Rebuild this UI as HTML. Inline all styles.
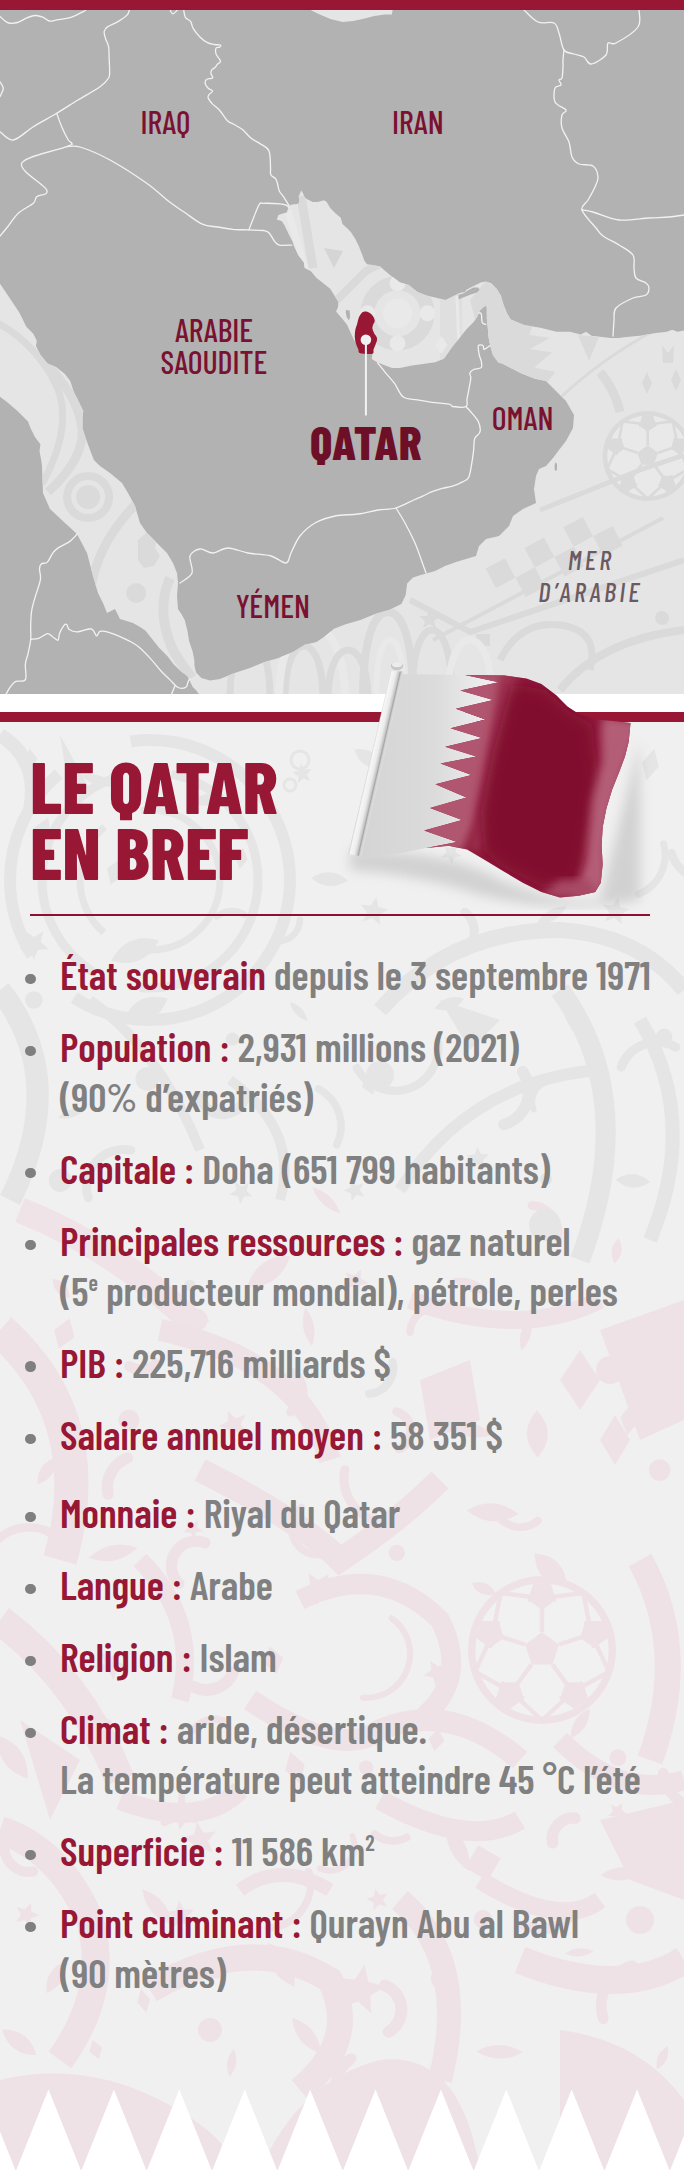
<!DOCTYPE html>
<html lang="fr"><head><meta charset="utf-8"><title>Le Qatar en bref</title>
<style>
html,body{margin:0;padding:0}
body{width:684px;height:2170px;position:relative;overflow:hidden;background:#f0f0f0;font-family:"Barlow Condensed","Liberation Sans Narrow","Liberation Sans",sans-serif}
.map{position:absolute;left:0;top:0;display:block}
.band-w{position:absolute;left:0;top:694px;width:684px;height:18px;background:#ffffff}
.band-r{position:absolute;left:0;top:712px;width:684px;height:10px;background:#971735}
.flag{position:absolute;left:0;top:650px;display:block}
.tri{position:absolute;left:0;top:2080px;display:block}
.bg{position:absolute;left:0;top:722px;display:block}
.lbl{position:absolute;width:300px;text-align:center;line-height:1;white-space:nowrap}
.lbl .t{display:inline-block;transform-origin:50% 50%}
.title{transform-origin:0 50%;position:absolute;left:30.3px;font-size:73px;font-weight:800;color:#971735;line-height:1;white-space:nowrap}
.rule{position:absolute;left:30px;top:914px;width:620px;height:2px;background:#8f0f31}
.li{transform-origin:0 50%;position:absolute;left:60px;font-size:40.2px;line-height:1;font-weight:600;color:#808080;white-space:nowrap}
.li b{color:#971735;font-weight:600}
.li sup{font-size:0.55em;vertical-align:0;position:relative;top:-0.67em}
.bul{position:absolute;left:25px;width:10.5px;height:10.5px;border-radius:50%;background:#7f7f7f}
</style></head><body>
<svg class="map" width="684" height="694" viewBox="0 0 684 694">
<defs>
<clipPath id="seaclip"><polygon points="0.0,283.7 5.3,291.6 12.3,302.1 19.3,312.6 22.8,319.6 26.3,326.7 33.3,333.7 36.8,340.7 36.0,346.0 40.4,354.7 47.4,363.5 56.1,367.0 64.9,374.0 70.2,381.0 73.7,391.6 79.0,402.1 83.3,410.9 82.5,417.9 82.5,428.4 86.0,438.9 91.2,453.0 93.9,460.0 100.0,466.0 110.0,473.0 122.0,483.0 128.0,493.0 135.0,506.0 140.0,523.0 147.0,533.0 157.0,543.0 167.0,553.0 173.0,563.0 177.0,573.0 178.0,583.0 177.0,596.0 178.0,609.0 182.0,615.0 184.7,620.0 187.4,630.5 189.1,641.0 192.6,651.6 194.4,660.4 194.4,665.6 196.1,672.6 201.4,677.9 210.0,680.5 220.0,679.0 234.6,673.0 249.2,668.2 263.9,662.3 278.5,658.0 293.1,652.1 304.8,644.8 316.5,641.9 325.3,636.0 334.0,628.7 345.7,624.3 360.4,620.0 375.0,614.0 389.6,609.7 401.3,603.9 405.7,595.1 407.1,583.4 413.0,577.5 420.0,575.2 435.0,571.0 445.0,566.0 456.0,562.0 466.0,559.0 476.0,556.0 479.0,546.0 486.0,539.0 499.0,536.0 509.0,526.0 513.0,516.0 523.0,509.0 536.0,503.0 534.0,489.0 536.0,476.0 539.0,469.0 546.0,466.0 553.0,458.0 559.0,450.0 566.0,441.0 573.0,428.0 574.0,415.0 566.0,401.0 556.0,391.0 546.0,381.0 535.0,378.8 521.5,373.4 510.8,368.0 503.0,364.0 498.2,362.3 493.0,355.3 490.4,346.5 488.6,337.7 487.7,327.2 486.8,318.4 486.8,307.9 486.0,305.3 482.5,307.9 479.8,310.5 477.2,316.7 473.7,321.9 466.7,328.9 459.6,337.7 452.6,346.5 443.9,358.8 435.1,362.3 422.8,364.0 410.5,365.8 400.0,368.0 392.0,368.0 384.0,365.0 378.0,362.5 375.3,361.3 371.8,359.0 372.4,353.7 373.5,349.6 375.3,345.0 377.0,340.3 376.5,336.8 374.1,333.3 372.4,328.6 373.0,325.1 374.7,321.0 373.0,316.3 369.4,312.8 364.8,311.6 361.3,313.4 358.9,317.5 357.2,323.9 355.4,329.8 354.8,336.8 356.0,343.8 358.3,349.6 360.1,353.2 357.2,346.1 354.2,340.3 351.9,335.6 349.6,330.4 347.2,325.1 343.7,320.4 339.0,315.1 336.1,311.6 337.9,307.5 338.5,301.7 337.2,300.0 330.2,288.8 321.4,281.8 316.1,277.4 310.9,271.2 304.7,267.7 303.9,262.5 298.6,255.4 294.2,246.7 292.5,241.4 288.9,234.4 284.6,225.6 281.9,221.2 276.7,219.5 278.4,215.1 283.7,213.3 287.2,212.5 288.1,208.1 288.9,205.4 292.5,204.6 298.6,203.7 299.5,199.3 298.6,196.7 301.2,190.5 303.0,193.2 304.7,197.5 307.4,199.3 312.6,201.9 317.9,201.9 324.0,200.2 326.7,201.9 330.2,208.1 335.4,213.3 340.7,217.7 342.5,223.9 347.7,228.8 351.2,232.6 355.6,239.6 359.1,246.7 361.8,253.7 364.4,260.7 367.0,264.2 372.3,265.1 380.0,266.5 390.0,275.0 400.0,282.5 408.8,285.1 417.5,292.1 426.3,295.6 435.1,297.4 445.6,300.0 452.6,296.5 459.6,293.0 464.9,292.1 466.7,289.5 473.7,286.0 480.7,282.5 486.0,281.6 491.2,283.3 496.5,288.6 500.9,295.6 503.5,304.4 507.0,313.2 510.8,319.6 524.2,325.0 540.4,327.7 556.5,331.7 570.0,331.7 580.7,334.4 586.1,331.7 591.5,335.7 602.2,337.1 610.3,337.9 618.4,337.9 626.4,337.1 639.9,335.7 656.0,333.0 666.8,331.7 672.2,329.8 677.6,331.7 684.0,330.4 684.0,694.0 198.8,694.0 196.1,690.2 192.6,686.7 189.1,679.6 187.4,676.1 180.4,670.9 173.3,663.9 168.0,656.8 159.3,648.0 152.3,639.3 145.3,630.5 140.0,627.0 133.0,623.0 120.0,619.0 115.0,609.0 107.0,613.0 103.0,603.0 98.0,593.0 93.0,576.0 87.0,553.0 77.0,534.0 65.0,523.0 50.0,509.0 43.0,493.0 42.0,466.0 41.2,460.0 39.5,451.2 40.4,444.2 35.1,437.2 30.7,428.4 28.0,421.4 17.5,410.9 7.0,402.1 0.0,396.8"/><polygon points="311.0,9.0 311.0,10.3 319.8,14.6 330.4,19.0 342.6,22.0 353.2,21.1 363.7,18.7 374.2,15.9 384.7,14.6 391.8,14.6 392.6,10.3 392.6,9.0"/></clipPath>
</defs>
<rect width="684" height="694" fill="#b2b2b2"/>
<polygon points="0.0,283.7 5.3,291.6 12.3,302.1 19.3,312.6 22.8,319.6 26.3,326.7 33.3,333.7 36.8,340.7 36.0,346.0 40.4,354.7 47.4,363.5 56.1,367.0 64.9,374.0 70.2,381.0 73.7,391.6 79.0,402.1 83.3,410.9 82.5,417.9 82.5,428.4 86.0,438.9 91.2,453.0 93.9,460.0 100.0,466.0 110.0,473.0 122.0,483.0 128.0,493.0 135.0,506.0 140.0,523.0 147.0,533.0 157.0,543.0 167.0,553.0 173.0,563.0 177.0,573.0 178.0,583.0 177.0,596.0 178.0,609.0 182.0,615.0 184.7,620.0 187.4,630.5 189.1,641.0 192.6,651.6 194.4,660.4 194.4,665.6 196.1,672.6 201.4,677.9 210.0,680.5 220.0,679.0 234.6,673.0 249.2,668.2 263.9,662.3 278.5,658.0 293.1,652.1 304.8,644.8 316.5,641.9 325.3,636.0 334.0,628.7 345.7,624.3 360.4,620.0 375.0,614.0 389.6,609.7 401.3,603.9 405.7,595.1 407.1,583.4 413.0,577.5 420.0,575.2 435.0,571.0 445.0,566.0 456.0,562.0 466.0,559.0 476.0,556.0 479.0,546.0 486.0,539.0 499.0,536.0 509.0,526.0 513.0,516.0 523.0,509.0 536.0,503.0 534.0,489.0 536.0,476.0 539.0,469.0 546.0,466.0 553.0,458.0 559.0,450.0 566.0,441.0 573.0,428.0 574.0,415.0 566.0,401.0 556.0,391.0 546.0,381.0 535.0,378.8 521.5,373.4 510.8,368.0 503.0,364.0 498.2,362.3 493.0,355.3 490.4,346.5 488.6,337.7 487.7,327.2 486.8,318.4 486.8,307.9 486.0,305.3 482.5,307.9 479.8,310.5 477.2,316.7 473.7,321.9 466.7,328.9 459.6,337.7 452.6,346.5 443.9,358.8 435.1,362.3 422.8,364.0 410.5,365.8 400.0,368.0 392.0,368.0 384.0,365.0 378.0,362.5 375.3,361.3 371.8,359.0 372.4,353.7 373.5,349.6 375.3,345.0 377.0,340.3 376.5,336.8 374.1,333.3 372.4,328.6 373.0,325.1 374.7,321.0 373.0,316.3 369.4,312.8 364.8,311.6 361.3,313.4 358.9,317.5 357.2,323.9 355.4,329.8 354.8,336.8 356.0,343.8 358.3,349.6 360.1,353.2 357.2,346.1 354.2,340.3 351.9,335.6 349.6,330.4 347.2,325.1 343.7,320.4 339.0,315.1 336.1,311.6 337.9,307.5 338.5,301.7 337.2,300.0 330.2,288.8 321.4,281.8 316.1,277.4 310.9,271.2 304.7,267.7 303.9,262.5 298.6,255.4 294.2,246.7 292.5,241.4 288.9,234.4 284.6,225.6 281.9,221.2 276.7,219.5 278.4,215.1 283.7,213.3 287.2,212.5 288.1,208.1 288.9,205.4 292.5,204.6 298.6,203.7 299.5,199.3 298.6,196.7 301.2,190.5 303.0,193.2 304.7,197.5 307.4,199.3 312.6,201.9 317.9,201.9 324.0,200.2 326.7,201.9 330.2,208.1 335.4,213.3 340.7,217.7 342.5,223.9 347.7,228.8 351.2,232.6 355.6,239.6 359.1,246.7 361.8,253.7 364.4,260.7 367.0,264.2 372.3,265.1 380.0,266.5 390.0,275.0 400.0,282.5 408.8,285.1 417.5,292.1 426.3,295.6 435.1,297.4 445.6,300.0 452.6,296.5 459.6,293.0 464.9,292.1 466.7,289.5 473.7,286.0 480.7,282.5 486.0,281.6 491.2,283.3 496.5,288.6 500.9,295.6 503.5,304.4 507.0,313.2 510.8,319.6 524.2,325.0 540.4,327.7 556.5,331.7 570.0,331.7 580.7,334.4 586.1,331.7 591.5,335.7 602.2,337.1 610.3,337.9 618.4,337.9 626.4,337.1 639.9,335.7 656.0,333.0 666.8,331.7 672.2,329.8 677.6,331.7 684.0,330.4 684.0,694.0 198.8,694.0 196.1,690.2 192.6,686.7 189.1,679.6 187.4,676.1 180.4,670.9 173.3,663.9 168.0,656.8 159.3,648.0 152.3,639.3 145.3,630.5 140.0,627.0 133.0,623.0 120.0,619.0 115.0,609.0 107.0,613.0 103.0,603.0 98.0,593.0 93.0,576.0 87.0,553.0 77.0,534.0 65.0,523.0 50.0,509.0 43.0,493.0 42.0,466.0 41.2,460.0 39.5,451.2 40.4,444.2 35.1,437.2 30.7,428.4 28.0,421.4 17.5,410.9 7.0,402.1 0.0,396.8" fill="#e5e5e5"/>
<polygon points="311.0,9.0 311.0,10.3 319.8,14.6 330.4,19.0 342.6,22.0 353.2,21.1 363.7,18.7 374.2,15.9 384.7,14.6 391.8,14.6 392.6,10.3 392.6,9.0" fill="#e5e5e5"/>
<g clip-path="url(#seaclip)">
<path d="M-4,322 C25,337 50,365 60,395 C68,425 58,455 42,484" fill="none" stroke="#dadada" stroke-width="7"/>
<path d="M40,358 C62,378 78,400 82,428 C84,450 70,472 48,492" fill="none" stroke="#dadada" stroke-width="9"/>
<circle cx="88.1" cy="497" r="21" fill="none" stroke="#dadada" stroke-width="8"/>
<circle cx="88.1" cy="497" r="12" fill="#dadada"/>
<path d="M137,503 C118,522 100,548 93,578 C88,595 92,606 98,616" fill="none" stroke="#dadada" stroke-width="9"/>
<path d="M170,578 C160,600 162,625 172,648 C178,660 186,670 192,678" fill="none" stroke="#dadada" stroke-width="10"/>
<circle cx="136.2" cy="593" r="10" fill="#dadada"/>
<path d="M138,540 l9,-8 l10,6 l-2,10 l5,8 l-6,10 l-10,2 l-6,-8z" fill="#dadada"/>
<path d="M301,196 L313,268" fill="none" stroke="#dadada" stroke-width="9"/>
<path d="M335,302 L366,271 L384,262" fill="none" stroke="#dadada" stroke-width="8"/>
<path d="M288,210 L306,272" fill="none" stroke="#e9e9e9" stroke-width="7"/>
<polygon points="324,248 343,251 334,268" fill="#d5d5d5"/>
<circle cx="397.5" cy="313.3" r="30" fill="none" stroke="#dadada" stroke-width="14"/><circle cx="397.5" cy="313.3" r="14.7" fill="#e9e9e9"/><circle cx="427.5" cy="313.3" r="8.0" fill="#e9e9e9"/><circle cx="397.5" cy="343.3" r="8.0" fill="#e9e9e9"/><circle cx="367.5" cy="313.3" r="8.0" fill="#e9e9e9"/><circle cx="397.5" cy="283.3" r="8.0" fill="#e9e9e9"/>
<path d="M440,282 L462,282 L462,360 L440,360z" fill="#dadada" opacity="0.6"/>
<line x1="457" y1="296" x2="459" y2="346" stroke="#e9e9e9" stroke-width="3"/>
<polygon points="441.4,336.0 447.4,345 441.4,354.0 435.4,345" fill="#e9e9e9" transform="rotate(0 441.4 345)"/>
<polygon points="486,281 496.5,288.6 500.9,295.6 503.5,304.4 507,313.2 510.8,319.6 524.2,325 532.6,326.3 529.1,335.1 550.2,337.7 530,349.1 552,352.6 534.4,367.5 555.4,371.9 546.7,382.5 540,386 500,372 478,330 470,300" fill="#dadada"/>
<polygon points="578,335 599,337 589,361" fill="#dadada"/>
<path d="M560,398 Q600,360 655,330" fill="none" stroke="#dadada" stroke-width="3"/>
<path d="M600,372 Q615,390 620,412" fill="none" stroke="#dadada" stroke-width="9"/>
<polygon points="647,372.0 652.0,383 647,394.0 642.0,383" fill="#dadada" transform="rotate(0 647 383)"/>
<polygon points="676,369.0 681.0,380 676,391.0 671.0,380" fill="#dadada" transform="rotate(0 676 380)"/>
<path d="M662,345 l6,8 l6,-8 l-1,18 l-10,0z" fill="#dadada"/>
<circle cx="647.7" cy="456" r="45.0" fill="#dadada"/><circle cx="647.7" cy="456" r="40.5" fill="#e9e9e9"/><polygon points="647.7,445.2 658.0,452.7 654.0,464.7 641.4,464.7 637.4,452.7" fill="#dadada"/><line x1="647.7" y1="445.2" x2="647.7" y2="422.7" stroke="#dadada" stroke-width="2.7"/><polygon points="647.7,431.7 639.1,425.5 642.4,415.4 653.0,415.4 656.3,425.5" fill="#dadada"/><line x1="658.0" y1="452.7" x2="679.4" y2="445.7" stroke="#dadada" stroke-width="2.7"/><polygon points="670.8,448.5 674.1,438.4 684.7,438.4 687.9,448.5 679.4,454.7" fill="#dadada"/><line x1="654.0" y1="464.7" x2="667.3" y2="482.9" stroke="#dadada" stroke-width="2.7"/><polygon points="662.0,475.7 672.6,475.7 675.8,485.7 667.3,491.9 658.7,485.7" fill="#dadada"/><line x1="641.4" y1="464.7" x2="628.1" y2="482.9" stroke="#dadada" stroke-width="2.7"/><polygon points="633.4,475.7 636.7,485.7 628.1,491.9 619.6,485.7 622.8,475.7" fill="#dadada"/><line x1="637.4" y1="452.7" x2="616.0" y2="445.7" stroke="#dadada" stroke-width="2.7"/><polygon points="624.6,448.5 616.0,454.7 607.5,448.5 610.7,438.4 621.3,438.4" fill="#dadada"/><polyline points="639.1,425.5 672.8,421.4 679.4,454.7" fill="none" stroke="#dadada" stroke-width="2.7"/><polyline points="674.1,438.4 688.4,469.2 658.7,485.7" fill="none" stroke="#dadada" stroke-width="2.7"/><polyline points="672.6,475.7 647.7,498.8 622.8,475.7" fill="none" stroke="#dadada" stroke-width="2.7"/><polyline points="636.7,485.7 607.0,469.2 621.3,438.4" fill="none" stroke="#dadada" stroke-width="2.7"/><polyline points="616.0,454.7 622.6,421.4 656.3,425.5" fill="none" stroke="#dadada" stroke-width="2.7"/>
<path d="M410,600 L470,632 L684,560" fill="none" stroke="#dadada" stroke-width="6"/>
<rect x="489.5" y="562.1" width="22" height="22" fill="#dadada" transform="rotate(-28 500.5 573.1)"/>
<rect x="519.3" y="571.2" width="22" height="22" fill="#dadada" transform="rotate(-28 530.3 582.2)"/>
<rect x="528.4" y="541.5" width="22" height="22" fill="#dadada" transform="rotate(-28 539.4 552.5)"/>
<rect x="558.2" y="550.6" width="22" height="22" fill="#dadada" transform="rotate(-28 569.2 561.6)"/>
<rect x="567.2" y="520.8" width="22" height="22" fill="#dadada" transform="rotate(-28 578.2 531.8)"/>
<rect x="597.0" y="529.9" width="22" height="22" fill="#dadada" transform="rotate(-28 608.0 540.9)"/>
<path d="M433,640 L663,518" stroke="#dadada" stroke-width="4"/>
<path d="M540,510 L640,470 L684,455" fill="none" stroke="#dadada" stroke-width="5"/>
<path d="M500,660 Q520,620 560,625 Q600,630 590,670" fill="none" stroke="#dadada" stroke-width="7"/>
<path d="M560,690 Q600,640 684,630" fill="none" stroke="#dadada" stroke-width="8"/>
<circle cx="662" cy="618" r="7" fill="#dadada"/>
<rect x="476" y="634" width="14" height="12" fill="#dadada"/>
<path d="M230.0,700 C230.0,648 244,640 250,640 C256,640 270.0,648 270.0,700" fill="none" stroke="#dadada" stroke-width="7"/>
<path d="M285.0,700 C285.0,654 298,646 304,646 C310,646 323.0,654 323.0,700" fill="none" stroke="#dadada" stroke-width="7"/>
<path d="M279.0,700 C279.0,639 302,626 312,626 C322,626 345.0,639 345.0,700" fill="none" stroke="#e9e9e9" stroke-width="8"/>
<path d="M328.0,700 C328.0,658 342,650 348,650 C354,650 368.0,658 368.0,700" fill="none" stroke="#dadada" stroke-width="7"/>
<path d="M363.0,700 C363.0,622 380,612 388,612 C396,612 413.0,622 413.0,700" fill="none" stroke="#dadada" stroke-width="8"/>
<path d="M376.0,700 C376.0,646 386,640 390,640 C394,640 404.0,646 404.0,700" fill="none" stroke="#e9e9e9" stroke-width="6"/>
<path d="M412.0,700 C412.0,638 426,630 432,630 C438,630 452.0,638 452.0,700" fill="none" stroke="#dadada" stroke-width="7"/>
<path d="M448.0,700 C448.0,649 463,640 470,640 C477,640 492.0,649 492.0,700" fill="none" stroke="#e9e9e9" stroke-width="7"/>
<polygon points="429.5,609 432,616 440,616 434,621 436,628 429.5,624 423,628 425,621 419,616 427,616" fill="#dadada"/>
</g>
<polygon points="346.0,309.9 349.6,310.5 350.1,316.9 349.0,320.4 346.6,316.9 345.8,312.2" fill="#b2b2b2"/>
<polygon points="458.5,295.0 463.8,293.2 468.2,290.2 473.4,287.5 478.2,287.5 479.6,289.7 476.9,292.4 470.8,294.6 463.8,297.2 458.5,299.4" fill="#b2b2b2"/>
<polygon points="555.5,462.0 557.0,464.0 557.0,470.0 555.0,471.0 554.5,466.0" fill="#b2b2b2"/>
<path d="M0.0,16.4 C0.7,17.1 2.9,19.3 4.4,20.4 C5.9,21.5 6.6,22.6 8.8,23.0 C11.0,23.4 14.6,23.3 17.5,22.5 C20.4,21.7 23.4,19.4 26.3,18.2 C29.2,17.0 32.4,15.7 35.1,15.5 C37.9,15.3 40.4,16.2 42.8,17.1 C45.2,18.0 46.9,20.5 49.3,21.0 C51.7,21.5 53.9,20.4 57.0,19.9 C60.1,19.4 64.7,19.0 68.0,18.2 C71.3,17.4 73.9,16.2 76.8,14.9 C79.7,13.6 84.0,11.2 85.5,10.5" fill="none" stroke="#f2f2f2" stroke-width="1.3" stroke-linejoin="round" stroke-linecap="round"/>
<path d="M129.4,10.0 C129.0,10.8 129.0,13.0 127.2,14.9 C125.4,16.8 121.7,19.4 118.4,21.4 C115.1,23.4 109.9,25.2 107.5,26.9 C105.1,28.5 104.6,29.5 104.2,31.3 C103.8,33.1 104.6,35.3 105.3,37.9 C106.0,40.5 107.9,43.1 108.6,46.7 C109.2,50.4 109.0,55.8 109.2,59.8 C109.4,63.8 109.7,67.8 109.6,70.8 C109.5,73.8 110.2,75.3 108.6,78.0 C107.0,80.7 105.1,83.0 100.0,86.7 C94.9,90.4 85.2,95.6 78.0,100.0 C70.8,104.4 64.2,108.8 56.7,113.3 C49.2,117.8 40.5,122.2 33.3,126.7 C26.1,131.2 18.9,139.2 13.3,140.0 C7.8,140.8 2.2,133.1 0.0,131.7" fill="none" stroke="#f2f2f2" stroke-width="1.3" stroke-linejoin="round" stroke-linecap="round"/>
<path d="M0.0,81.7 C0.5,82.8 3.3,85.8 3.3,88.3 C3.3,90.8 0.5,95.3 0.0,96.7" fill="none" stroke="#f2f2f2" stroke-width="1.3" stroke-linejoin="round" stroke-linecap="round"/>
<path d="M56.7,113.3 C57.5,115.5 59.8,122.2 61.7,126.7 C63.6,131.2 66.6,137.2 68.3,140.0 C70.0,142.8 72.0,142.2 71.7,143.3 C71.4,144.4 75.0,143.4 66.7,146.7 C58.4,150.0 25.0,156.1 21.7,163.3 C18.4,170.5 44.2,184.4 46.7,190.0 C49.2,195.6 38.9,194.5 36.7,196.7 C34.5,198.9 36.4,200.5 33.3,203.3 C30.2,206.1 22.7,209.2 18.3,213.3 C13.9,217.4 9.8,224.2 6.7,228.0 C3.6,231.8 1.1,234.7 0.0,236.0" fill="none" stroke="#f2f2f2" stroke-width="1.3" stroke-linejoin="round" stroke-linecap="round"/>
<path d="M66.7,146.7 C68.9,146.8 72.8,144.8 80.0,147.0 C87.2,149.2 98.9,153.9 110.0,160.0 C121.1,166.1 136.7,176.2 146.7,183.3 C156.7,190.4 163.6,197.4 170.0,202.3 C176.4,207.2 179.8,209.2 185.2,212.8 C190.6,216.5 196.9,221.8 202.3,224.2 C207.7,226.6 212.4,226.2 217.5,227.0 C222.6,227.8 227.5,228.8 232.7,229.3 C237.9,229.8 243.8,229.7 248.9,229.9 C254.0,230.1 259.9,230.0 263.2,230.5 C266.5,231.0 267.0,230.9 268.9,232.7 C270.8,234.5 272.9,239.2 274.6,241.3 C276.3,243.4 276.5,244.5 279.3,245.1 C282.1,245.7 289.6,245.1 291.7,245.1" fill="none" stroke="#f2f2f2" stroke-width="1.3" stroke-linejoin="round" stroke-linecap="round"/>
<path d="M248.9,229.9 C249.7,227.8 251.9,221.8 253.7,217.5 C255.4,213.2 257.8,206.6 259.4,204.2 C261.0,201.8 259.7,203.4 263.2,203.3 C266.7,203.2 276.5,203.5 280.3,203.8 C284.1,204.1 284.6,204.6 286.0,205.2 C287.4,205.8 288.3,206.8 288.8,207.1" fill="none" stroke="#f2f2f2" stroke-width="1.3" stroke-linejoin="round" stroke-linecap="round"/>
<path d="M170.5,10.0 C170.5,10.2 170.1,10.5 170.5,11.1 C170.9,11.7 172.0,14.0 173.2,13.8 C174.4,13.6 176.8,10.6 177.5,10.0" fill="none" stroke="#f2f2f2" stroke-width="1.3" stroke-linejoin="round" stroke-linecap="round"/>
<path d="M183.7,10.0 C184.0,11.2 184.2,15.4 185.4,17.3 C186.6,19.2 189.4,19.8 190.7,21.7 C192.0,23.6 191.7,26.1 193.3,28.7 C194.9,31.3 198.1,35.2 200.4,37.5 C202.8,39.8 205.1,41.5 207.4,42.7 C209.7,43.9 212.2,44.1 214.4,44.5 C216.6,44.9 219.6,44.6 220.5,45.0 C221.4,45.4 220.3,46.6 219.6,47.1 C218.9,47.6 216.7,46.8 216.1,48.0 C215.5,49.2 215.4,51.9 216.1,54.1 C216.8,56.3 220.3,59.4 220.5,61.1 C220.7,62.9 217.9,63.6 217.0,64.6 C216.1,65.6 216.2,66.4 215.3,67.3 C214.4,68.2 212.5,68.9 211.8,69.9 C211.1,70.9 210.8,72.1 210.9,73.4 C211.0,74.7 213.3,76.8 212.6,77.8 C211.9,78.8 207.7,78.6 206.5,79.6 C205.3,80.6 205.0,82.5 205.3,83.9 C205.6,85.4 207.0,87.1 208.2,88.3 C209.4,89.5 212.4,90.0 212.6,91.0 C212.8,92.0 209.8,93.3 209.1,94.5 C208.4,95.7 207.6,96.4 208.2,98.0 C208.8,99.6 210.7,102.0 212.6,104.1 C214.5,106.1 217.1,107.5 219.6,110.3 C222.1,113.1 225.2,118.5 227.5,120.8 C229.8,123.1 231.2,122.8 233.7,124.3 C236.2,125.8 239.6,127.3 242.5,129.6 C245.4,131.9 248.3,136.0 251.2,138.3 C254.1,140.6 257.1,141.6 260.0,143.6 C262.9,145.6 267.1,146.8 268.8,150.6 C270.6,154.4 270.2,162.4 270.5,166.4 C270.8,170.4 270.0,172.8 270.8,174.8 C271.6,176.8 274.4,177.2 275.5,178.6 C276.6,180.0 276.8,181.2 277.4,183.3 C278.0,185.4 278.2,188.5 279.3,190.9 C280.4,193.3 282.5,195.2 284.1,197.6 C285.7,200.0 288.0,203.9 288.8,205.2" fill="none" stroke="#f2f2f2" stroke-width="1.3" stroke-linejoin="round" stroke-linecap="round"/>
<path d="M524.0,10.0 C526.3,12.0 533.0,19.8 538.0,22.0 C543.0,24.2 550.5,21.2 554.0,23.0 C557.5,24.8 557.3,28.5 559.0,33.0 C560.7,37.5 561.5,46.5 564.0,50.0 C566.5,53.5 570.7,52.8 574.0,54.0 C577.3,55.2 581.2,55.3 584.0,57.0 C586.8,58.7 587.3,64.3 591.0,64.0 C594.7,63.7 603.2,58.5 606.0,55.0 C608.8,51.5 606.3,45.0 608.0,43.0 C609.7,41.0 611.0,45.7 616.0,43.0 C621.0,40.3 634.2,32.5 638.0,27.0 C641.8,21.5 638.8,12.8 639.0,10.0" fill="none" stroke="#f2f2f2" stroke-width="1.3" stroke-linejoin="round" stroke-linecap="round"/>
<path d="M564.0,50.0 C563.8,51.7 563.2,57.2 563.0,60.0 C562.8,62.8 563.2,64.0 563.0,67.0 C562.8,70.0 562.7,75.8 562.0,78.0 C561.3,80.2 559.2,78.8 559.0,80.0 C558.8,81.2 561.7,83.7 561.0,85.0 C560.3,86.3 556.0,85.2 555.0,88.0 C554.0,90.8 553.2,98.3 555.0,102.0 C556.8,105.7 564.8,107.8 566.0,110.0 C567.2,112.2 562.7,112.0 562.0,115.0 C561.3,118.0 560.8,123.5 562.0,128.0 C563.2,132.5 567.3,137.2 569.0,142.0 C570.7,146.8 570.3,153.3 572.0,157.0 C573.7,160.7 575.5,162.5 579.0,164.0 C582.5,165.5 589.8,163.8 593.0,166.0 C596.2,168.2 597.7,173.5 598.0,177.0 C598.3,180.5 596.7,183.2 595.0,187.0 C593.3,190.8 590.2,196.2 588.0,200.0 C585.8,203.8 580.7,205.3 582.0,210.0 C583.3,214.7 592.5,223.7 596.0,228.0 C599.5,232.3 599.2,233.2 603.0,236.0 C606.8,238.8 614.0,241.8 619.0,245.0 C624.0,248.2 630.5,251.2 633.0,255.0 C635.5,258.8 633.5,264.2 634.0,268.0 C634.5,271.8 634.0,275.5 636.0,278.0 C638.0,280.5 643.8,281.3 646.0,283.0 C648.2,284.7 649.0,286.0 649.0,288.0 C649.0,290.0 648.7,293.3 646.0,295.0 C643.3,296.7 638.0,295.8 633.0,298.0 C628.0,300.2 619.2,304.2 616.0,308.0 C612.8,311.8 614.5,316.3 614.0,321.0 C613.5,325.7 613.2,333.5 613.0,336.0" fill="none" stroke="#f2f2f2" stroke-width="1.3" stroke-linejoin="round" stroke-linecap="round"/>
<path d="M582.0,210.0 C583.8,210.3 586.8,210.3 593.0,212.0 C599.2,213.7 609.7,219.0 619.0,220.0 C628.3,221.0 640.7,218.5 649.0,218.0 C657.3,217.5 663.2,217.5 669.0,217.0 C674.8,216.5 681.5,215.3 684.0,215.0" fill="none" stroke="#f2f2f2" stroke-width="1.3" stroke-linejoin="round" stroke-linecap="round"/>
<path d="M180.0,583.0 C182.0,581.3 190.3,577.5 192.0,573.0 C193.7,568.5 188.7,560.0 190.0,556.0 C191.3,552.0 196.2,549.5 200.0,549.0 C203.8,548.5 208.3,553.2 213.0,553.0 C217.7,552.8 222.2,548.0 228.0,548.0 C233.8,548.0 240.8,551.7 248.0,553.0 C255.2,554.3 264.7,554.3 271.0,556.0 C277.3,557.7 282.7,563.5 286.0,563.0 C289.3,562.5 288.7,557.5 291.0,553.0 C293.3,548.5 296.0,541.0 300.0,536.0 C304.0,531.0 309.2,526.3 315.0,523.0 C320.8,519.7 327.8,517.5 335.0,516.0 C342.2,514.5 350.8,515.0 358.0,514.0 C365.2,513.0 371.7,511.0 378.0,510.0 C384.3,509.0 390.1,509.7 396.0,508.0 C401.9,506.3 409.2,502.0 413.7,500.0 C418.2,498.0 420.3,497.2 423.2,495.9 C426.1,494.6 427.6,493.4 430.8,492.1 C434.0,490.8 438.7,489.2 442.2,488.3 C445.7,487.4 448.2,487.5 451.7,486.4 C455.2,485.3 460.3,483.2 463.2,481.6 C466.1,480.0 467.5,479.9 468.9,476.9 C470.3,473.9 470.9,468.0 471.7,463.6 C472.5,459.2 473.1,454.4 473.6,450.3 C474.1,446.2 473.7,441.8 474.6,438.9 C475.6,436.0 478.4,434.8 479.3,433.2 C480.2,431.6 480.5,431.2 480.3,429.3 C480.1,427.4 479.7,424.2 478.4,421.7 C477.1,419.2 474.8,416.6 472.7,414.1 C470.6,411.6 467.1,407.8 466.0,406.5" fill="none" stroke="#f2f2f2" stroke-width="1.3" stroke-linejoin="round" stroke-linecap="round"/>
<path d="M396.0,508.0 C397.5,510.5 401.8,517.2 405.0,523.0 C408.2,528.8 412.3,537.0 415.0,543.0 C417.7,549.0 419.2,554.0 421.0,559.0 C422.8,564.0 425.2,570.7 426.0,573.0" fill="none" stroke="#f2f2f2" stroke-width="1.3" stroke-linejoin="round" stroke-linecap="round"/>
<path d="M377.6,362.8 C378.9,364.4 382.4,368.8 385.2,372.3 C388.0,375.8 391.7,379.6 394.7,383.7 C397.7,387.8 399.5,394.3 403.3,397.0 C407.1,399.7 412.3,398.9 417.5,399.9 C422.7,400.8 429.2,402.0 434.6,402.7 C440.0,403.4 446.8,403.7 449.8,404.3 C452.8,404.9 450.0,406.1 452.7,406.5 C455.4,406.9 463.6,407.8 466.0,406.5 C468.4,405.2 466.5,401.8 467.0,398.9 C467.5,396.0 468.3,392.9 468.9,389.4 C469.5,385.9 470.6,380.7 470.8,378.0 C471.0,375.3 469.3,374.7 469.8,373.3 C470.3,371.9 471.7,370.4 473.6,369.5 C475.5,368.6 479.9,369.0 481.2,367.6 C482.5,366.2 481.5,363.0 481.2,360.9 C480.9,358.8 479.8,357.7 479.3,355.2 C478.8,352.7 477.8,347.3 478.4,345.7 C479.0,344.1 482.2,345.1 483.1,345.7 C484.1,346.3 483.0,349.5 484.1,349.5 C485.2,349.5 488.9,346.3 489.8,345.7" fill="none" stroke="#f2f2f2" stroke-width="1.3" stroke-linejoin="round" stroke-linecap="round"/>
<path d="M77.2,534.0 C76.0,535.2 73.4,538.8 70.2,541.1 C67.0,543.5 60.8,546.1 57.9,548.1 C55.0,550.1 54.4,551.0 52.6,553.3 C50.9,555.6 49.3,560.3 47.4,562.1 C45.5,563.9 42.5,562.7 41.2,563.9 C39.9,565.1 39.6,566.5 39.5,569.1 C39.4,571.7 41.1,574.9 40.4,579.6 C39.7,584.3 36.6,591.9 35.1,597.2 C33.6,602.5 32.3,606.5 31.6,611.2 C30.9,615.9 30.9,620.6 30.7,625.3 C30.5,630.0 31.1,634.6 30.7,639.3 C30.3,644.0 29.0,649.2 28.1,653.3 C27.2,657.4 25.8,659.5 25.4,663.9 C24.9,668.3 27.0,676.7 25.4,679.6 C23.8,682.5 18.3,680.2 15.8,681.4 C13.3,682.6 12.1,684.6 10.5,686.7 C8.9,688.8 6.8,692.8 6.1,694.0" fill="none" stroke="#f2f2f2" stroke-width="1.3" stroke-linejoin="round" stroke-linecap="round"/>
<path d="M30.7,639.3 C32.0,639.1 35.8,639.3 38.6,638.4 C41.4,637.5 45.1,634.0 47.4,633.7 C49.7,633.4 50.9,635.6 52.6,636.7 C54.4,637.8 56.7,640.8 57.9,640.2 C59.1,639.6 58.6,635.7 59.6,633.2 C60.6,630.7 62.8,626.8 64.0,625.3 C65.2,623.8 65.8,623.7 66.7,624.4 C67.6,625.1 67.5,628.4 69.3,629.6 C71.0,630.9 73.5,632.0 77.2,631.9 C80.9,631.8 88.0,628.1 91.2,628.8 C94.4,629.4 95.0,635.4 96.5,635.8 C98.0,636.2 98.0,632.0 100.0,631.4 C102.0,630.8 105.5,631.4 108.8,632.3 C112.1,633.2 116.0,634.9 120.0,636.7 C124.0,638.5 129.7,641.1 133.0,643.0 C136.3,644.9 137.1,645.4 140.0,648.0 C142.9,650.6 147.0,654.8 150.5,658.6 C154.0,662.4 157.8,667.5 161.0,671.0 C164.2,674.5 167.2,677.0 169.8,679.6 C172.4,682.2 174.8,685.2 176.8,686.7 C178.8,688.2 180.4,688.4 182.0,688.4 C183.6,688.4 185.5,687.9 186.5,686.7 C187.5,685.5 187.6,682.7 188.2,681.4 C188.8,680.1 189.7,679.2 190.0,678.8" fill="none" stroke="#f2f2f2" stroke-width="1.3" stroke-linejoin="round" stroke-linecap="round"/>
<path d="M175.0,685.8 L171.6,694.0" fill="none" stroke="#f2f2f2" stroke-width="1.3" stroke-linejoin="round" stroke-linecap="round"/>
<path d="M478.7,313.0 C479.1,313.1 480.7,312.3 481.3,313.9 C481.9,315.5 481.5,320.9 482.2,322.6 C482.9,324.4 485.1,324.1 485.7,324.4" fill="none" stroke="#f2f2f2" stroke-width="1.3" stroke-linejoin="round" stroke-linecap="round"/>
<path d="M372.4,353.7 C374.6,353.1 373.0,351.1 373.5,349.6 C374.0,348.2 374.7,346.6 375.3,345.0 C375.9,343.4 376.8,341.7 377.0,340.3 C377.2,338.9 377.0,338.0 376.5,336.8 C376.0,335.6 374.8,334.7 374.1,333.3 C373.4,331.9 372.6,330.0 372.4,328.6 C372.2,327.2 372.6,326.4 373.0,325.1 C373.4,323.8 374.7,322.5 374.7,321.0 C374.7,319.5 373.9,317.7 373.0,316.3 C372.1,314.9 370.8,313.6 369.4,312.8 C368.0,312.0 366.1,311.5 364.8,311.6 C363.5,311.7 362.3,312.4 361.3,313.4 C360.3,314.4 359.6,315.8 358.9,317.5 C358.2,319.2 357.8,321.8 357.2,323.9 C356.6,325.9 355.8,327.6 355.4,329.8 C355.0,332.0 354.7,334.5 354.8,336.8 C354.9,339.1 355.4,341.7 356.0,343.8 C356.6,345.9 357.6,348.0 358.3,349.6 C359.0,351.2 357.8,352.5 360.1,353.2 C362.5,353.9 370.2,354.3 372.4,353.7Z" fill="#971735"/>
<line x1="365.9" y1="343" x2="365.9" y2="415.5" stroke="#f3f3f3" stroke-width="2"/>
<circle cx="365.9" cy="339.7" r="5.3" fill="#f0f0f0"/>
<rect width="684" height="10" fill="#971735"/>
</svg>
<svg class="bg" width="684" height="1448" viewBox="0 722 684 1448"><polygon points="0,-10.4 6.4,0 0,10.4 -6.4,0" fill="#e6e5e6" transform="translate(31.0 759.1) rotate(-8)"/>
<path d="M-19.0,0 Q0,-10.0 19.0,0 Q0,10.0 -19.0,0z" fill="#e6e5e6" transform="translate(98.8 780.4) rotate(16)"/>
<path d="M-15.8,0 Q0,-11.9 15.8,0 Q0,11.9 -15.8,0z" fill="#e6e5e6" transform="translate(207.6 799.6) rotate(171)"/>
<polygon points="311.7,768.9 307.1,774.4 310.0,781.0 303.3,778.4 298.0,783.1 298.4,776.0 292.2,772.4 299.1,770.6 300.7,763.6 304.5,769.6" fill="#e6e5e6"/>
<path d="M-17.1,0 Q0,-14.2 17.1,0 Q0,14.2 -17.1,0z" fill="#e6e5e6" transform="translate(368.8 758.7) rotate(33)"/>
<path d="M503.9,801.3 A33.7,33.7 0 0 1 468.1,821.7" fill="none" stroke="#e6e5e6" stroke-width="7.2" stroke-linecap="round"/>
<path d="M531.1,785.7 A34.6,34.6 0 0 1 558.3,741.5" fill="none" stroke="#e6e5e6" stroke-width="10.8" stroke-linecap="round"/>
<polygon points="0,-16.4 8.6,0 0,16.4 -8.6,0" fill="#e6e5e6" transform="translate(650.4 764.6) rotate(14)"/>
<path d="M-18.8,0 Q0,-15.1 18.8,0 Q0,15.1 -18.8,0z" fill="#e6e5e6" transform="translate(708.7 808.8) rotate(27)"/>
<polygon points="0,-16.3 9.8,0 0,16.3 -9.8,0" fill="#e6e5e6" transform="translate(41.8 832.4) rotate(23)"/>
<polygon points="0,-13.9 8.9,0 0,13.9 -8.9,0" fill="#e6e5e6" transform="translate(115.4 871.7) rotate(20)"/>
<polygon points="0,-11.1 6.3,0 0,11.1 -6.3,0" fill="#e6e5e6" transform="translate(241.4 858.4) rotate(9)"/>
<path d="M-18.3,0 Q0,-14.0 18.3,0 Q0,14.0 -18.3,0z" fill="#e6e5e6" transform="translate(329.6 879.3) rotate(4)"/>
<path d="M-13.4,0 Q0,-10.8 13.4,0 Q0,10.8 -13.4,0z" fill="#e6e5e6" transform="translate(380.0 840.1) rotate(23)"/>
<polygon points="456.8,844.5 455.5,851.7 461.4,856.1 454.2,857.1 451.8,864.1 448.5,857.5 441.2,857.4 446.5,852.3 444.3,845.3 450.8,848.7" fill="#e6e5e6"/>
<circle cx="555.7" cy="883.0" r="11.0" fill="#e6e5e6"/>
<path d="M663.7,843.9 A42.1,42.1 0 0 1 638.6,894.1" fill="none" stroke="#e6e5e6" stroke-width="7.1" stroke-linecap="round"/>
<path d="M702.3,878.6 A34.7,34.7 0 0 1 671.5,853.0" fill="none" stroke="#e6e5e6" stroke-width="8.5" stroke-linecap="round"/>
<polygon points="43.4,931.6 40.7,942.0 48.7,949.1 38.0,949.7 33.7,959.5 29.8,949.6 19.1,948.5 27.4,941.7 25.1,931.2 34.1,937.0" fill="#e6e5e6"/>
<path d="M-26.0,0 Q0,-21.1 26.0,0 Q0,21.1 -26.0,0z" fill="#e6e5e6" transform="translate(135.1 950.6) rotate(157)"/>
<path d="M216.8,916.7 A22.6,22.6 0 0 1 244.5,914.8" fill="none" stroke="#e6e5e6" stroke-width="6.4" stroke-linecap="round"/>
<path d="M299.9,919.8 A21.3,21.3 0 0 1 280.9,940.9" fill="none" stroke="#e6e5e6" stroke-width="6.6" stroke-linecap="round"/>
<polygon points="376.4,896.9 378.5,906.9 388.4,909.6 379.5,914.8 380.0,925.0 372.4,918.1 362.8,921.8 367.0,912.4 360.6,904.4 370.8,905.5" fill="#e6e5e6"/>
<path d="M464.8,912.1 A23.1,23.1 0 0 1 445.4,953.1" fill="none" stroke="#e6e5e6" stroke-width="8.8" stroke-linecap="round"/>
<path d="M-17.6,0 Q0,-10.7 17.6,0 Q0,10.7 -17.6,0z" fill="#e6e5e6" transform="translate(551.4 915.2) rotate(149)"/>
<polygon points="618.1,897.4 620.1,907.0 629.6,909.5 621.1,914.4 621.6,924.2 614.3,917.7 605.2,921.2 609.1,912.2 603.0,904.6 612.7,905.6" fill="#e6e5e6"/>
<path d="M754.4,878.0 A44.5,44.5 0 0 1 730.4,955.8" fill="none" stroke="#e6e5e6" stroke-width="7.6" stroke-linecap="round"/>
<circle cx="33.8" cy="1000.0" r="8.7" fill="#e6e5e6"/>
<path d="M-24.7,0 Q0,-22.1 24.7,0 Q0,22.1 -24.7,0z" fill="#e6e5e6" transform="translate(145.6 1009.8) rotate(153)"/>
<circle cx="232.4" cy="1039.1" r="6.6" fill="#e6e5e6"/>
<path d="M-12.9,0 Q0,-7.9 12.9,0 Q0,7.9 -12.9,0z" fill="#e6e5e6" transform="translate(298.6 1011.3) rotate(47)"/>
<path d="M438.3,1044.1 A43.4,43.4 0 0 1 356.8,1068.0" fill="none" stroke="#e6e5e6" stroke-width="8.2" stroke-linecap="round"/>
<path d="M-15.6,0 Q0,-11.7 15.6,0 Q0,11.7 -15.6,0z" fill="#e6e5e6" transform="translate(449.3 1003.6) rotate(162)"/>
<polygon points="0,-12.7 10.0,0 0,12.7 -10.0,0" fill="#e6e5e6" transform="translate(574.6 1018.8) rotate(10)"/>
<circle cx="664.1" cy="1036.9" r="8.3" fill="#e6e5e6"/>
<path d="M741.0,1030.3 A40.0,40.0 0 0 1 697.8,1077.2" fill="none" stroke="#e6e5e6" stroke-width="8.4" stroke-linecap="round"/>
<path d="M-14.4,0 Q0,-8.1 14.4,0 Q0,8.1 -14.4,0z" fill="#e6e5e6" transform="translate(71.5 1113.5) rotate(163)"/>
<circle cx="147.4" cy="1078.8" r="11.9" fill="#e6e5e6"/>
<path d="M245.9,1093.1 A23.3,23.3 0 0 1 200.5,1098.0" fill="none" stroke="#e6e5e6" stroke-width="9.9" stroke-linecap="round"/>
<path d="M318.5,1088.9 A41.8,41.8 0 0 1 336.7,1144.6" fill="none" stroke="#e6e5e6" stroke-width="7.5" stroke-linecap="round"/>
<polygon points="0,-11.2 7.3,0 0,11.2 -7.3,0" fill="#e6e5e6" transform="translate(369.0 1084.4) rotate(-22)"/>
<path d="M522.7,1071.7 A34.6,34.6 0 0 1 504.0,1124.4" fill="none" stroke="#e6e5e6" stroke-width="11.5" stroke-linecap="round"/>
<path d="M533.6,1109.4 A20.5,20.5 0 0 1 543.9,1083.4" fill="none" stroke="#e6e5e6" stroke-width="6.0" stroke-linecap="round"/>
<path d="M621.2,1067.1 A38.1,38.1 0 0 1 675.8,1047.2" fill="none" stroke="#e6e5e6" stroke-width="9.1" stroke-linecap="round"/>
<path d="M-20.9,0 Q0,-12.5 20.9,0 Q0,12.5 -20.9,0z" fill="#e6e5e6" transform="translate(726.1 1117.1) rotate(50)"/>
<circle cx="60.2" cy="1180.5" r="11.4" fill="#e6e5e6"/>
<path d="M88.2,1197.8 A37.3,37.3 0 0 1 130.8,1150.1" fill="none" stroke="#e6e5e6" stroke-width="8.9" stroke-linecap="round"/>
<polygon points="249.0,1182.7 246.5,1190.7 252.4,1196.5 244.1,1196.6 240.3,1204.0 237.7,1196.1 229.5,1194.8 236.2,1189.9 234.8,1181.7 241.6,1186.5" fill="#e6e5e6"/>
<path d="M-19.1,0 Q0,-10.1 19.1,0 Q0,10.1 -19.1,0z" fill="#efe2e6" transform="translate(326.3 1200.4) rotate(43)"/>
<polygon points="363.6,1183.2 359.8,1190.0 364.1,1196.4 356.5,1194.9 351.7,1201.0 350.8,1193.3 343.5,1190.6 350.5,1187.4 350.8,1179.6 356.1,1185.3" fill="#e6e5e6"/>
<polygon points="488.9,1154.3 483.0,1159.9 485.4,1167.7 478.2,1163.9 471.6,1168.5 473.0,1160.5 466.5,1155.6 474.6,1154.5 477.2,1146.8 480.8,1154.1" fill="#e6e5e6"/>
<circle cx="545.9" cy="1179.2" r="6.1" fill="#e6e5e6"/>
<path d="M-17.3,0 Q0,-13.6 17.3,0 Q0,13.6 -17.3,0z" fill="#e6e5e6" transform="translate(633.0 1180.9) rotate(4)"/>
<path d="M690.5,1173.7 A35.6,35.6 0 0 1 720.0,1141.3" fill="none" stroke="#efe2e6" stroke-width="11.9" stroke-linecap="round"/>
<path d="M-13.1,0 Q0,-10.6 13.1,0 Q0,10.6 -13.1,0z" fill="#efe2e6" transform="translate(61.2 1288.3) rotate(49)"/>
<circle cx="103.4" cy="1255.3" r="6.8" fill="#e6e5e6"/>
<circle cx="189.7" cy="1285.2" r="5.6" fill="#e6e5e6"/>
<path d="M-26.6,0 Q0,-20.0 26.6,0 Q0,20.0 -26.6,0z" fill="#efe2e6" transform="translate(268.7 1271.3) rotate(144)"/>
<polygon points="361.1,1269.0 360.8,1278.3 369.0,1282.9 360.0,1285.5 358.2,1294.7 352.9,1287.0 343.6,1288.1 349.3,1280.7 345.4,1272.2 354.2,1275.4" fill="#efe2e6"/>
<path d="M-20.4,0 Q0,-12.1 20.4,0 Q0,12.1 -20.4,0z" fill="#efe2e6" transform="translate(470.9 1285.6) rotate(20)"/>
<path d="M532.1,1205.4 A27.6,27.6 0 0 1 557.7,1237.6" fill="none" stroke="#efe2e6" stroke-width="9.0" stroke-linecap="round"/>
<path d="M-12.7,0 Q0,-10.1 12.7,0 Q0,10.1 -12.7,0z" fill="#efe2e6" transform="translate(616.6 1250.8) rotate(99)"/>
<path d="M-24.8,0 Q0,-16.7 24.8,0 Q0,16.7 -24.8,0z" fill="#e6e5e6" transform="translate(702.3 1258.5) rotate(89)"/>
<polygon points="0,-16.1 10.9,0 0,16.1 -10.9,0" fill="#efe2e6" transform="translate(64.2 1333.6) rotate(20)"/>
<path d="M155.6,1363.7 A21.4,21.4 0 0 1 129.3,1366.1" fill="none" stroke="#efe2e6" stroke-width="10.4" stroke-linecap="round"/>
<circle cx="196.6" cy="1319.8" r="11.1" fill="#efe2e6"/>
<path d="M-19.4,0 Q0,-10.9 19.4,0 Q0,10.9 -19.4,0z" fill="#efe2e6" transform="translate(308.6 1326.9) rotate(80)"/>
<path d="M392.6,1362.1 A26.1,26.1 0 0 1 369.2,1393.7" fill="none" stroke="#e6e5e6" stroke-width="8.1" stroke-linecap="round"/>
<path d="M410.1,1332.2 A25.0,25.0 0 0 1 427.4,1309.1" fill="none" stroke="#efe2e6" stroke-width="7.6" stroke-linecap="round"/>
<path d="M-17.1,0 Q0,-10.1 17.1,0 Q0,10.1 -17.1,0z" fill="#efe2e6" transform="translate(525.8 1334.0) rotate(105)"/>
<circle cx="639.4" cy="1355.0" r="11.2" fill="#efe2e6"/>
<path d="M-23.4,0 Q0,-17.7 23.4,0 Q0,17.7 -23.4,0z" fill="#e6e5e6" transform="translate(715.3 1329.6) rotate(8)"/>
<polygon points="0,-17.9 9.7,0 0,17.9 -9.7,0" fill="#efe2e6" transform="translate(64.3 1443.5) rotate(-22)"/>
<circle cx="129.0" cy="1420.3" r="10.6" fill="#efe2e6"/>
<polygon points="245.5,1415.1 240.7,1424.5 246.8,1433.2 236.3,1431.5 230.0,1440.1 228.4,1429.5 218.3,1426.1 227.8,1421.4 227.9,1410.7 235.4,1418.3" fill="#efe2e6"/>
<path d="M291.6,1372.5 A22.6,22.6 0 0 1 290.9,1411.7" fill="none" stroke="#efe2e6" stroke-width="9.8" stroke-linecap="round"/>
<path d="M396.6,1411.7 A20.1,20.1 0 0 1 399.3,1449.0" fill="none" stroke="#efe2e6" stroke-width="9.0" stroke-linecap="round"/>
<path d="M-23.6,0 Q0,-14.2 23.6,0 Q0,14.2 -23.6,0z" fill="#efe2e6" transform="translate(469.8 1429.6) rotate(13)"/>
<path d="M-23.6,0 Q0,-21.0 23.6,0 Q0,21.0 -23.6,0z" fill="#efe2e6" transform="translate(537.3 1433.8) rotate(89)"/>
<polygon points="0,-16.7 9.8,0 0,16.7 -9.8,0" fill="#efe2e6" transform="translate(629.9 1418.7) rotate(9)"/>
<circle cx="695.0" cy="1398.8" r="7.1" fill="#efe2e6"/>
<path d="M-16.5,0 Q0,-12.7 16.5,0 Q0,12.7 -16.5,0z" fill="#efe2e6" transform="translate(46.9 1470.7) rotate(125)"/>
<path d="M108.0,1494.1 A31.6,31.6 0 0 1 127.4,1458.0" fill="none" stroke="#efe2e6" stroke-width="11.4" stroke-linecap="round"/>
<polygon points="198.5,1520.2 197.2,1527.1 202.7,1531.3 195.8,1532.2 193.5,1538.8 190.5,1532.5 183.5,1532.3 188.5,1527.5 186.6,1520.8 192.7,1524.1" fill="#efe2e6"/>
<path d="M325.0,1554.0 A26.7,26.7 0 0 1 301.4,1507.4" fill="none" stroke="#efe2e6" stroke-width="7.3" stroke-linecap="round"/>
<path d="M417.3,1510.9 A43.8,43.8 0 0 1 344.9,1469.7" fill="none" stroke="#efe2e6" stroke-width="9.1" stroke-linecap="round"/>
<path d="M-26.0,0 Q0,-18.0 26.0,0 Q0,18.0 -26.0,0z" fill="#efe2e6" transform="translate(492.6 1512.2) rotate(4)"/>
<path d="M537.7,1520.8 A27.5,27.5 0 0 1 496.0,1512.6" fill="none" stroke="#efe2e6" stroke-width="7.9" stroke-linecap="round"/>
<circle cx="659.6" cy="1470.1" r="10.9" fill="#efe2e6"/>
<circle cx="697.8" cy="1525.6" r="11.3" fill="#efe2e6"/>
<path d="M-9.3,1548.4 A45.0,45.0 0 0 1 60.4,1540.3" fill="none" stroke="#efe2e6" stroke-width="8.6" stroke-linecap="round"/>
<path d="M-25.0,0 Q0,-15.4 25.0,0 Q0,15.4 -25.0,0z" fill="#efe2e6" transform="translate(112.9 1552.9) rotate(168)"/>
<path d="M178.9,1583.6 A24.7,24.7 0 0 1 204.9,1542.8" fill="none" stroke="#efe2e6" stroke-width="11.3" stroke-linecap="round"/>
<polygon points="328.9,1574.3 325.4,1585.9 334.1,1594.3 322.0,1594.5 316.7,1605.3 312.8,1593.9 300.8,1592.2 310.4,1585.0 308.4,1573.1 318.3,1580.0" fill="#efe2e6"/>
<circle cx="396.8" cy="1553.0" r="8.2" fill="#efe2e6"/>
<path d="M-13.2,0 Q0,-11.5 13.2,0 Q0,11.5 -13.2,0z" fill="#efe2e6" transform="translate(483.9 1588.7) rotate(23)"/>
<path d="M-23.6,0 Q0,-21.0 23.6,0 Q0,21.0 -23.6,0z" fill="#efe2e6" transform="translate(550.7 1570.6) rotate(47)"/>
<polygon points="0,-10.6 8.0,0 0,10.6 -8.0,0" fill="#efe2e6" transform="translate(647.6 1568.1) rotate(-20)"/>
<path d="M724.7,1590.2 A25.5,25.5 0 0 1 688.5,1625.0" fill="none" stroke="#efe2e6" stroke-width="8.7" stroke-linecap="round"/>
<path d="M-17.6,0 Q0,-9.5 17.6,0 Q0,9.5 -17.6,0z" fill="#efe2e6" transform="translate(19.1 1641.5) rotate(43)"/>
<polygon points="119.7,1650.3 118.4,1661.2 127.5,1667.4 116.6,1669.5 113.5,1680.1 108.2,1670.4 97.2,1670.8 104.7,1662.7 101.0,1652.3 111.0,1657.0" fill="#efe2e6"/>
<path d="M233.2,1672.3 A28.5,28.5 0 0 1 193.8,1686.7" fill="none" stroke="#efe2e6" stroke-width="11.8" stroke-linecap="round"/>
<polygon points="0,-14.2 10.3,0 0,14.2 -10.3,0" fill="#efe2e6" transform="translate(273.2 1660.2) rotate(-14)"/>
<path d="M391.6,1618.3 A43.8,43.8 0 0 1 363.0,1697.7" fill="none" stroke="#efe2e6" stroke-width="6.1" stroke-linecap="round"/>
<polygon points="446.4,1662.4 443.2,1671.3 449.7,1678.2 440.2,1678.0 435.6,1686.3 432.9,1677.2 423.6,1675.4 431.4,1670.0 430.3,1660.6 437.8,1666.4" fill="#efe2e6"/>
<polygon points="534.6,1645.6 527.4,1654.5 532.0,1664.9 521.4,1660.8 512.8,1668.5 513.4,1657.0 503.6,1651.3 514.6,1648.3 517.0,1637.2 523.2,1646.8" fill="#efe2e6"/>
<path d="M-14.8,0 Q0,-10.5 14.8,0 Q0,10.5 -14.8,0z" fill="#efe2e6" transform="translate(668.2 1644.9) rotate(123)"/>
<polygon points="0,-15.4 9.8,0 0,15.4 -9.8,0" fill="#efe2e6" transform="translate(751.2 1673.3) rotate(3)"/>
<path d="M-26.3,0 Q0,-19.9 26.3,0 Q0,19.9 -26.3,0z" fill="#efe2e6" transform="translate(12.6 1756.9) rotate(55)"/>
<polygon points="0,-12.2 9.5,0 0,12.2 -9.5,0" fill="#efe2e6" transform="translate(103.3 1725.1) rotate(-26)"/>
<path d="M193.5,1729.8 A25.6,25.6 0 0 1 221.7,1720.5" fill="none" stroke="#efe2e6" stroke-width="7.8" stroke-linecap="round"/>
<polygon points="0,-16.5 10.4,0 0,16.5 -10.4,0" fill="#efe2e6" transform="translate(294.9 1767.5) rotate(-16)"/>
<circle cx="366.1" cy="1767.6" r="7.2" fill="#efe2e6"/>
<polygon points="0,-11.4 8.1,0 0,11.4 -8.1,0" fill="#efe2e6" transform="translate(436.4 1739.9) rotate(10)"/>
<path d="M-17.6,0 Q0,-11.7 17.6,0 Q0,11.7 -17.6,0z" fill="#efe2e6" transform="translate(580.1 1723.6) rotate(123)"/>
<circle cx="617.9" cy="1757.8" r="8.5" fill="#efe2e6"/>
<path d="M708.2,1808.4 A40.5,40.5 0 0 1 663.1,1773.1" fill="none" stroke="#efe2e6" stroke-width="10.6" stroke-linecap="round"/>
<path d="M33.3,1871.5 A24.7,24.7 0 0 1 4.7,1843.7" fill="none" stroke="#efe2e6" stroke-width="10.0" stroke-linecap="round"/>
<path d="M181.7,1794.7 A25.3,25.3 0 0 1 163.9,1823.1" fill="none" stroke="#efe2e6" stroke-width="6.3" stroke-linecap="round"/>
<polygon points="197.5,1803.3 191.6,1813.4 197.9,1823.3 186.4,1820.9 179.0,1829.9 177.8,1818.2 166.8,1814.0 177.6,1809.2 178.3,1797.5 186.1,1806.2" fill="#efe2e6"/>
<path d="M352.5,1836.2 A24.6,24.6 0 0 1 319.8,1868.4" fill="none" stroke="#efe2e6" stroke-width="6.2" stroke-linecap="round"/>
<path d="M406.9,1837.4 A28.3,28.3 0 0 1 374.6,1834.0" fill="none" stroke="#efe2e6" stroke-width="7.7" stroke-linecap="round"/>
<path d="M-27.0,0 Q0,-15.7 27.0,0 Q0,15.7 -27.0,0z" fill="#efe2e6" transform="translate(457.8 1847.3) rotate(64)"/>
<path d="M552.5,1842.8 A21.2,21.2 0 0 1 574.9,1818.1" fill="none" stroke="#efe2e6" stroke-width="11.5" stroke-linecap="round"/>
<polygon points="622.6,1802.9 621.7,1809.9 627.6,1813.9 620.7,1815.3 618.7,1822.0 615.3,1815.9 608.2,1816.1 613.0,1810.9 610.6,1804.3 617.0,1807.3" fill="#efe2e6"/>
<path d="M-13.0,0 Q0,-6.8 13.0,0 Q0,6.8 -13.0,0z" fill="#efe2e6" transform="translate(742.8 1836.0) rotate(166)"/>
<polygon points="31.0,1902.9 31.4,1911.6 39.4,1915.2 31.2,1918.3 30.3,1927.0 24.8,1920.2 16.2,1922.0 21.0,1914.7 16.6,1907.1 25.1,1909.3" fill="#efe2e6"/>
<path d="M-23.2,0 Q0,-14.6 23.2,0 Q0,14.6 -23.2,0z" fill="#efe2e6" transform="translate(157.2 1907.0) rotate(50)"/>
<polygon points="194.2,1909.7 186.8,1917.0 190.0,1926.9 180.7,1922.1 172.3,1928.1 174.0,1917.9 165.6,1911.7 175.9,1910.2 179.2,1900.3 183.8,1909.6" fill="#efe2e6"/>
<path d="M308.7,1871.5 A43.9,43.9 0 0 1 268.0,1927.9" fill="none" stroke="#efe2e6" stroke-width="7.5" stroke-linecap="round"/>
<polygon points="387.6,1893.5 383.1,1899.9 386.8,1906.9 379.2,1904.6 373.7,1910.3 373.6,1902.4 366.5,1898.9 374.0,1896.3 375.1,1888.5 379.9,1894.8" fill="#efe2e6"/>
<circle cx="483.0" cy="1919.4" r="9.3" fill="#efe2e6"/>
<path d="M576.1,1908.0 A39.6,39.6 0 0 1 523.8,1924.7" fill="none" stroke="#efe2e6" stroke-width="10.5" stroke-linecap="round"/>
<path d="M-20.8,0 Q0,-13.1 20.8,0 Q0,13.1 -20.8,0z" fill="#efe2e6" transform="translate(621.1 1873.9) rotate(176)"/>
<path d="M-13.8,0 Q0,-7.4 13.8,0 Q0,7.4 -13.8,0z" fill="#efe2e6" transform="translate(747.4 1929.3) rotate(90)"/>
<path d="M-18.8,0 Q0,-14.0 18.8,0 Q0,14.0 -18.8,0z" fill="#efe2e6" transform="translate(56.1 1976.8) rotate(121)"/>
<polygon points="0,-12.4 6.6,0 0,12.4 -6.6,0" fill="#efe2e6" transform="translate(143.6 2000.8) rotate(-12)"/>
<circle cx="216.8" cy="1972.4" r="6.4" fill="#efe2e6"/>
<path d="M-25.8,0 Q0,-18.8 25.8,0 Q0,18.8 -25.8,0z" fill="#efe2e6" transform="translate(281.1 1964.7) rotate(59)"/>
<path d="M385.0,1985.5 A25.8,25.8 0 0 1 388.7,2031.8" fill="none" stroke="#efe2e6" stroke-width="11.9" stroke-linecap="round"/>
<circle cx="441.7" cy="1978.5" r="10.9" fill="#efe2e6"/>
<path d="M-14.3,0 Q0,-8.2 14.3,0 Q0,8.2 -14.3,0z" fill="#efe2e6" transform="translate(579.4 1952.4) rotate(175)"/>
<path d="M603.4,2018.9 A41.7,41.7 0 0 1 632.2,1965.6" fill="none" stroke="#efe2e6" stroke-width="10.7" stroke-linecap="round"/>
<polygon points="0,-12.5 9.1,0 0,12.5 -9.1,0" fill="#efe2e6" transform="translate(751.5 1956.3) rotate(-8)"/>
<path d="M-21.5,0 Q0,-16.3 21.5,0 Q0,16.3 -21.5,0z" fill="#efe2e6" transform="translate(19.2 2042.2) rotate(37)"/>
<polygon points="0,-10.0 6.9,0 0,10.0 -6.9,0" fill="#efe2e6" transform="translate(95.7 2049.6) rotate(-18)"/>
<path d="M-14.0,0 Q0,-9.2 14.0,0 Q0,9.2 -14.0,0z" fill="#efe2e6" transform="translate(231.7 2062.9) rotate(99)"/>
<path d="M-22.9,0 Q0,-15.2 22.9,0 Q0,15.2 -22.9,0z" fill="#efe2e6" transform="translate(306.5 2035.5) rotate(51)"/>
<path d="M348.7,2113.9 A34.2,34.2 0 0 1 350.9,2058.8" fill="none" stroke="#efe2e6" stroke-width="11.2" stroke-linecap="round"/>
<path d="M-23.4,0 Q0,-13.6 23.4,0 Q0,13.6 -23.4,0z" fill="#efe2e6" transform="translate(499.8 2051.8) rotate(1)"/>
<circle cx="578.6" cy="2055.4" r="7.8" fill="#efe2e6"/>
<path d="M-12.7,0 Q0,-9.2 12.7,0 Q0,9.2 -12.7,0z" fill="#efe2e6" transform="translate(662.4 2057.7) rotate(115)"/>
<polygon points="0,-12.6 7.9,0 0,12.6 -7.9,0" fill="#efe2e6" transform="translate(749.1 2035.3) rotate(-21)"/>
<circle cx="150" cy="880" r="140" fill="none" stroke="#e6e5e6" stroke-width="12" stroke-dasharray="300 60 200 80"/>
<circle cx="150" cy="880" r="108" fill="none" stroke="#e6e5e6" stroke-width="9" stroke-dasharray="180 50 240 60"/>
<circle cx="150" cy="880" r="70" fill="none" stroke="#e6e5e6" stroke-width="7" stroke-dasharray="120 40"/>
<path d="M0,735 Q40,760 30,810" fill="none" stroke="#e6e5e6" stroke-width="14"/>
<path d="M60,735 L90,790 L70,800z" fill="#e6e5e6"/>
<circle cx="300" cy="760" r="9" fill="none" stroke="#e6e5e6" stroke-width="3"/>
<circle cx="290" cy="785" r="6" fill="none" stroke="#e6e5e6" stroke-width="3"/>
<path d="M380,1010 Q450,930 560,930 Q640,935 684,990" fill="none" stroke="#e6e5e6" stroke-width="16"/>
<path d="M560,990 Q640,1100 580,1260" fill="none" stroke="#e6e5e6" stroke-width="20"/>
<path d="M640,1020 Q700,1120 650,1240" fill="none" stroke="#e6e5e6" stroke-width="14"/>
<path d="M400,1190 Q470,1080 600,1070" fill="none" stroke="#e6e5e6" stroke-width="12"/>
<path d="M440,1000 L500,1020 L470,1050z" fill="#e6e5e6"/>
<circle cx="545" cy="1225" r="16" fill="#e6e5e6"/>
<circle cx="380" cy="1075" r="14" fill="#e6e5e6"/>
<path d="M0,990 Q70,1080 10,1200" fill="none" stroke="#e6e5e6" stroke-width="22"/>
<path d="M90,1000 Q160,1050 200,1150" fill="none" stroke="#e6e5e6" stroke-width="10"/>
<path d="M230,1080 Q300,1130 280,1200" fill="none" stroke="#e6e5e6" stroke-width="10"/>
<path d="M20,1210 Q120,1250 200,1330" fill="none" stroke="#efe3e7" stroke-width="26"/>
<circle cx="542" cy="1650" r="74.0" fill="#efe2e6"/><circle cx="542" cy="1650" r="66.6" fill="#f1f1f1"/><polygon points="542.0,1632.2 558.9,1644.5 552.4,1664.4 531.6,1664.4 525.1,1644.5" fill="#efe2e6"/><line x1="542.0" y1="1632.2" x2="542.0" y2="1595.2" stroke="#efe2e6" stroke-width="4.4"/><polygon points="542.0,1610.0 527.9,1599.8 533.3,1583.3 550.7,1583.3 556.1,1599.8" fill="#efe2e6"/><line x1="558.9" y1="1644.5" x2="594.1" y2="1633.1" stroke="#efe2e6" stroke-width="4.4"/><polygon points="580.0,1637.7 585.4,1621.1 602.8,1621.1 608.2,1637.7 594.1,1647.9" fill="#efe2e6"/><line x1="552.4" y1="1664.4" x2="574.2" y2="1694.3" stroke="#efe2e6" stroke-width="4.4"/><polygon points="565.5,1682.3 582.9,1682.3 588.3,1698.9 574.2,1709.1 560.1,1698.9" fill="#efe2e6"/><line x1="531.6" y1="1664.4" x2="509.8" y2="1694.3" stroke="#efe2e6" stroke-width="4.4"/><polygon points="518.5,1682.3 523.9,1698.9 509.8,1709.1 495.7,1698.9 501.1,1682.3" fill="#efe2e6"/><line x1="525.1" y1="1644.5" x2="489.9" y2="1633.1" stroke="#efe2e6" stroke-width="4.4"/><polygon points="504.0,1637.7 489.9,1647.9 475.8,1637.7 481.2,1621.1 498.6,1621.1" fill="#efe2e6"/><polyline points="527.9,1599.8 583.3,1593.1 594.1,1647.9" fill="none" stroke="#efe2e6" stroke-width="4.4"/><polyline points="585.4,1621.1 608.9,1671.7 560.1,1698.9" fill="none" stroke="#efe2e6" stroke-width="4.4"/><polyline points="582.9,1682.3 542.0,1720.3 501.1,1682.3" fill="none" stroke="#efe2e6" stroke-width="4.4"/><polyline points="523.9,1698.9 475.1,1671.7 498.6,1621.1" fill="none" stroke="#efe2e6" stroke-width="4.4"/><polyline points="489.9,1647.9 500.7,1593.1 556.1,1599.8" fill="none" stroke="#efe2e6" stroke-width="4.4"/>
<path d="M0,1330 Q100,1420 60,1560" fill="none" stroke="#efe2e6" stroke-width="34"/>
<path d="M160,1330 Q300,1360 330,1460" fill="none" stroke="#efe2e6" stroke-width="22"/>
<path d="M410,1300 Q520,1340 600,1300" fill="none" stroke="#efe2e6" stroke-width="18"/>
<path d="M600,1330 L684,1300 L684,1420 L640,1440z" fill="#efe2e6"/>
<path d="M420,1380 L470,1360 L480,1420 L430,1440z" fill="#efe2e6"/>
<path d="M560,1380 l20,-30 l20,30 l-20,30z" fill="#efe2e6"/>
<path d="M600,1440 l15,-25 l15,25 l-15,25z" fill="#efe2e6"/>
<circle cx="610" cy="1370" r="14" fill="#efe2e6"/>
<path d="M200,1470 Q300,1520 340,1560 Q400,1520 440,1480" fill="none" stroke="#efe2e6" stroke-width="24"/>
<path d="M300,1600 Q380,1560 440,1620 Q470,1680 420,1720" fill="none" stroke="#efe2e6" stroke-width="20"/>
<path d="M0,1620 Q80,1680 120,1780" fill="none" stroke="#efe2e6" stroke-width="30"/>
<path d="M140,1560 Q200,1620 180,1700" fill="none" stroke="#efe2e6" stroke-width="18"/>
<path d="M640,1560 Q690,1650 650,1760" fill="none" stroke="#efe2e6" stroke-width="26"/>
<path d="M20,1720 L80,1760 L50,1820z" fill="#efe2e6"/>
<path d="M250,1700 Q340,1760 380,1730 Q450,1700 520,1760" fill="none" stroke="#efe2e6" stroke-width="22"/>
<path d="M560,1740 Q620,1800 684,1780" fill="none" stroke="#efe2e6" stroke-width="20"/>
<path d="M0,1830 Q60,1850 90,1920 Q110,1990 60,2060" fill="none" stroke="#efe2e6" stroke-width="28"/>
<path d="M120,1800 Q200,1830 240,1790" fill="none" stroke="#efe2e6" stroke-width="20"/>
<path d="M380,1800 Q470,1850 520,1820" fill="none" stroke="#efe2e6" stroke-width="20"/>
<path d="M600,1820 L684,1800 L684,1900 L630,1880z" fill="#efe2e6"/>
<path d="M150,1990 Q250,1930 330,1980 Q360,2040 300,2090" fill="none" stroke="#efe2e6" stroke-width="26"/>
<polygon points="364.5,1964.4 368.4,1981.9 385.7,1986.4 370.3,1995.5 371.4,2013.4 358.0,2001.5 341.3,2008.1 348.4,1991.6 337.0,1977.8 354.9,1979.5" fill="#efe2e6"/>
<polygon points="196.9,1822.3 203.6,1832.7 215.9,1831.5 208.0,1841.1 212.9,1852.5 201.4,1848.0 192.1,1856.2 192.8,1843.8 182.2,1837.5 194.2,1834.4" fill="#efe2e6"/>
<path d="M400,1900 Q470,1960 440,2080" fill="none" stroke="#efe2e6" stroke-width="24"/>
<path d="M480,1880 Q560,1930 600,1900" fill="none" stroke="#efe2e6" stroke-width="18"/>
<path d="M520,1960 Q620,2000 684,1960" fill="none" stroke="#efe2e6" stroke-width="28"/>
<path d="M560,2030 Q640,2040 684,2100 L684,2170 L560,2170z" fill="#efe2e6"/>
<path d="M0,2080 Q80,2060 160,2100 Q220,2130 240,2170 L0,2170z" fill="#efe2e6"/>
<path d="M260,2170 Q300,2080 380,2060 Q460,2050 480,2170z" fill="#efe2e6"/>
<circle cx="210" cy="2030" r="12" fill="#efe2e6"/>
<circle cx="640" cy="1920" r="14" fill="#efe2e6"/>
<rect x="470" y="1850" width="26" height="26" transform="rotate(30 483 1863)" fill="#efe2e6"/>
<path d="M240,1890 Q280,1860 330,1890" fill="none" stroke="#efe2e6" stroke-width="14"/></svg>
<div class="band-w"></div><div class="band-r"></div>
<div class="lbl" style="left:15.4px;top:105.0px;font-size:32px;font-weight:500;color:#7a1130;"><span class="t">IRAQ</span></div><div class="lbl" style="left:267.9px;top:105.1px;font-size:32px;font-weight:500;color:#7a1130;"><span class="t">IRAN</span></div><div class="lbl" style="left:64.0px;top:312.6px;font-size:32px;font-weight:500;color:#7a1130;"><span class="t">ARABIE</span></div><div class="lbl" style="left:64.0px;top:344.5px;font-size:32px;font-weight:500;color:#7a1130;"><span class="t">SAOUDITE</span></div><div class="lbl" style="left:372.7px;top:401.1px;font-size:32px;font-weight:500;color:#7a1130;"><span class="t">OMAN</span></div><div class="lbl" style="left:122.9px;top:588.8px;font-size:32px;font-weight:500;color:#7a1130;"><span class="t">YÉMEN</span></div><div class="lbl" style="left:216.1px;top:417.6px;font-size:47.5px;font-weight:800;color:#6e0f28;letter-spacing:0.4px;"><span class="t">QATAR</span></div><div class="lbl" style="left:441.0px;top:545.6px;font-size:26.5px;font-weight:500;color:#6b5a61;font-style:italic;letter-spacing:3.4px;"><span class="t">MER</span></div><div class="lbl" style="left:440.5px;top:577.5px;font-size:26.5px;font-weight:500;color:#6b5a61;font-style:italic;letter-spacing:3.4px;"><span class="t">D’ARABIE</span></div>
<div class="title t" style="top:749px">LE QATAR</div>
<div class="title t" style="top:815.3px">EN BREF</div>
<svg class="flag" width="684" height="260" viewBox="0 650 684 260">
<defs>
<linearGradient id="wg" x1="0" y1="0" x2="1" y2="0">
 <stop offset="0" stop-color="#d4d4d4"/><stop offset="0.55" stop-color="#dbdbdb"/><stop offset="1" stop-color="#f2f2f2"/>
</linearGradient>
<linearGradient id="mg" x1="0" y1="0" x2="1" y2="0">
 <stop offset="0" stop-color="#b0566f"/><stop offset="0.2" stop-color="#9c2f4c"/><stop offset="0.35" stop-color="#86102f"/><stop offset="0.75" stop-color="#84112f"/><stop offset="0.9" stop-color="#a03c58"/><stop offset="1" stop-color="#b4637a"/>
</linearGradient>
<linearGradient id="pg" gradientUnits="userSpaceOnUse" x1="390.5" y1="671" x2="402.7" y2="673.8">
 <stop offset="0" stop-color="#d6d6d6"/><stop offset="0.12" stop-color="#f6f6f6"/><stop offset="0.45" stop-color="#ececec"/><stop offset="0.68" stop-color="#c9c9c9"/><stop offset="0.78" stop-color="#a6a6a6"/><stop offset="0.88" stop-color="#d0d0d0"/><stop offset="1" stop-color="#dddddd"/>
</linearGradient>
<filter id="blur" x="-20%" y="-20%" width="140%" height="140%"><feGaussianBlur stdDeviation="6"/></filter>
<filter id="b4" x="-20%" y="-20%" width="140%" height="140%"><feGaussianBlur stdDeviation="4"/></filter>
<filter id="b6" x="-20%" y="-20%" width="140%" height="140%"><feGaussianBlur stdDeviation="7"/></filter>
</defs>
<path d="M350,850 Q450,850 500,880 Q560,905 600,900 L640,740 L640,900 Q560,915 480,895 Q420,875 350,870Z" fill="#9a9a9a" opacity="0.35" filter="url(#blur)"/>
<polygon points="398.0,674.0 465.0,675.0 498.7,682.3 460.3,690.5 493.1,700.1 455.8,708.8 485.7,719.4 450.5,728.2 482.0,738.0 445.2,746.7 476.4,756.5 440.5,763.5 471.5,775.0 435.4,784.3 466.5,797.5 430.0,808.0 462.0,820.0 424.0,830.6 457.0,842.0 426.0,848.0 401.4,853.1 370.7,857.2 356.0,856.2" fill="url(#wg)"/>
<clipPath id="mclip"><polygon points="465.0,675.0 504.3,675.6 526.5,678.6 541.4,684.1 556.3,695.3 567.4,706.4 578.5,713.8 597.1,719.4 615.7,721.3 630.5,723.1 628.7,741.7 625.0,756.5 619.4,771.4 612.0,790.0 606.4,808.5 602.7,827.1 601.6,845.7 602.7,864.2 600.8,882.8 595.2,892.0 578.5,895.8 560.0,897.6 541.4,892.0 522.8,882.8 504.3,871.7 485.7,860.5 467.1,849.4 448.6,845.7 426.0,848.0 457.0,842.0 424.0,830.6 462.0,820.0 430.0,808.0 466.5,797.5 435.4,784.3 471.5,775.0 440.5,763.5 476.4,756.5 445.2,746.7 482.0,738.0 450.5,728.2 485.7,719.4 455.8,708.8 493.1,700.1 460.3,690.5 498.7,682.3 465.0,675.0"/></clipPath>
<polygon points="465.0,675.0 504.3,675.6 526.5,678.6 541.4,684.1 556.3,695.3 567.4,706.4 578.5,713.8 597.1,719.4 615.7,721.3 630.5,723.1 628.7,741.7 625.0,756.5 619.4,771.4 612.0,790.0 606.4,808.5 602.7,827.1 601.6,845.7 602.7,864.2 600.8,882.8 595.2,892.0 578.5,895.8 560.0,897.6 541.4,892.0 522.8,882.8 504.3,871.7 485.7,860.5 467.1,849.4 448.6,845.7 426.0,848.0 457.0,842.0 424.0,830.6 462.0,820.0 430.0,808.0 466.5,797.5 435.4,784.3 471.5,775.0 440.5,763.5 476.4,756.5 445.2,746.7 482.0,738.0 450.5,728.2 485.7,719.4 455.8,708.8 493.1,700.1 460.3,690.5 498.7,682.3 465.0,675.0" fill="#8e1a3a"/>
<g clip-path="url(#mclip)">
<polygon points="455,670 510,672 498,720 488,770 476,820 462,852 420,852" fill="#b1566f" filter="url(#b4)"/>
<polygon points="500,672 520,675 506,730 494,790 484,850 470,850 482,790 492,730" fill="#9d3451" filter="url(#b4)"/>
<polygon points="512,684 545,690 570,712 592,724 598,782 588,840 578,886 540,886 500,866 484,850 481,811 493,752" fill="#810f2f" filter="url(#b6)"/>
<polygon points="603,716 640,722 634,742 624,771 612,808 606,846 606,882 598,896 574,900 586,860 592,800 602,760 601,730" fill="#b45d77" filter="url(#b4)"/>
<polygon points="540,896 560,880 590,880 600,900" fill="#a84a66" filter="url(#b4)"/>
</g>
<polygon points="391,671 403.5,671.4 361.5,856.2 348.2,854" fill="url(#pg)"/>
<ellipse cx="397" cy="666" rx="6.2" ry="4.2" fill="#c8c8c8"/><ellipse cx="397" cy="664.5" rx="5" ry="2.8" fill="#ececec"/>
</svg>
<div class="rule"></div>
<div class="bul" style="top:973.5px"></div>
<div class="li t" style="top:954.0px"><b>État souverain</b> depuis le 3 septembre 1971</div>
<div class="bul" style="top:1045.5px"></div>
<div class="li t" style="top:1026.0px"><b>Population :</b> 2,931 millions (2021)</div>
<div class="li t" style="top:1076.2px">(90% d’expatriés)</div>
<div class="bul" style="top:1167.5px"></div>
<div class="li t" style="top:1148.0px"><b>Capitale :</b> Doha (651 799 habitants)</div>
<div class="bul" style="top:1239.5px"></div>
<div class="li t" style="top:1220.0px"><b>Principales ressources :</b> gaz naturel</div>
<div class="li t" style="top:1270.2px">(5<sup>e</sup> producteur mondial), pétrole, perles</div>
<div class="bul" style="top:1361.0px"></div>
<div class="li t" style="top:1341.5px"><b>PIB :</b> 225,716 milliards $</div>
<div class="bul" style="top:1433.5px"></div>
<div class="li t" style="top:1414.0px"><b>Salaire annuel moyen :</b> 58 351 $</div>
<div class="bul" style="top:1511.5px"></div>
<div class="li t" style="top:1492.0px"><b>Monnaie :</b> Riyal du Qatar</div>
<div class="bul" style="top:1583.5px"></div>
<div class="li t" style="top:1564.0px"><b>Langue :</b> Arabe</div>
<div class="bul" style="top:1655.5px"></div>
<div class="li t" style="top:1636.0px"><b>Religion :</b> Islam</div>
<div class="bul" style="top:1727.5px"></div>
<div class="li t" style="top:1708.0px"><b>Climat :</b> aride, désertique.</div>
<div class="li t" style="top:1758.0px">La température peut atteindre 45 °C l’été</div>
<div class="bul" style="top:1849.5px"></div>
<div class="li t" style="top:1830.0px"><b>Superficie :</b> 11 586 km<sup>2</sup></div>
<div class="bul" style="top:1921.5px"></div>
<div class="li t" style="top:1902.0px"><b>Point culminant :</b> Qurayn Abu al Bawl</div>
<div class="li t" style="top:1952.0px">(90 mètres)</div>
<svg class="tri" width="684" height="90" viewBox="0 2080 684 90">
<path d="M-49.6,2171 L-16.9,2089.4 L15.8,2171Z M15.8,2171 L48.5,2089.4 L81.2,2171Z M81.2,2171 L113.9,2089.4 L146.6,2171Z M146.6,2171 L179.3,2089.4 L212.0,2171Z M212.0,2171 L244.7,2089.4 L277.4,2171Z M277.4,2171 L310.1,2089.4 L342.8,2171Z M342.8,2171 L375.5,2089.4 L408.2,2171Z M408.2,2171 L440.9,2089.4 L473.6,2171Z M473.6,2171 L506.3,2089.4 L539.0,2171Z M539.0,2171 L571.7,2089.4 L604.4,2171Z M604.4,2171 L637.1,2089.4 L669.8,2171Z M669.8,2171 L702.5,2089.4 L735.2,2171Z " fill="#ffffff"/>
</svg>
<script>
(function(){
  function mw(f){var s=document.createElement('span');s.style.cssText='position:absolute;left:0;top:0;visibility:hidden;font-size:40px;white-space:nowrap;font-family:'+f;s.textContent='État souverain 1971 QATAR';document.body.appendChild(s);var r=s.getBoundingClientRect().width;document.body.removeChild(s);return r;}
  var a=mw('"Barlow Condensed",monospace'), b=mw('monospace');
  if(Math.abs(a-b)>0.5) return;
  var W=[49.8,51.8,78.2,106.8,61.7,74.3,112,46.6,104.5,247.7,218.2,590.7,458.8,252.9,489.9,510.5,557.8,331,443,340.4,212.9,216.8,367,580.9,314.6,519.1,166];
  var els=document.querySelectorAll('.t');
  for(var i=0;i<els.length&&i<W.length;i++){
    var e=els[i], w=e.getBoundingClientRect().width;
    if(w>0){e.style.transform='scaleX('+(W[i]/w).toFixed(4)+')';}
  }
})();
</script>

</body></html>
